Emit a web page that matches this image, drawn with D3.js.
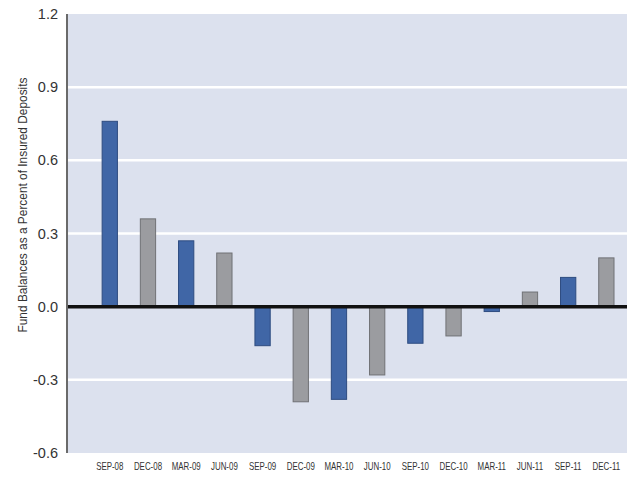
<!DOCTYPE html>
<html>
<head>
<meta charset="utf-8">
<script src="https://cdn.jsdelivr.net/npm/d3@7"></script>
<style>
  body { margin: 0; background: #fff; }
  svg { display: block; }
</style>
</head>
<body>
<div id="vis"></div>
<script>
var quarters = ["SEP-08", "DEC-08", "MAR-09", "JUN-09", "SEP-09", "DEC-09", "MAR-10",
                "JUN-10", "SEP-10", "DEC-10", "MAR-11", "JUN-11", "SEP-11", "DEC-11"];
var balances = [0.76, 0.36, 0.27, 0.22, -0.16, -0.39, -0.38,
                -0.28, -0.15, -0.12, -0.02, 0.06, 0.12, 0.20];
var yTicks = [-0.6, -0.3, 0.0, 0.3, 0.6, 0.9, 1.2];
var yTitle = "Fund Balances as a Percent of Insured Deposits";

var W = 640, H = 480;
var margin = {top: 14, right: 13, bottom: 27, left: 67},
    w = W - margin.left - margin.right,
    h = H - margin.top - margin.bottom;

var svg = d3.select("#vis").append("svg")
    .attr("width", W)
    .attr("height", H);

var g = svg.append("g")
    .attr("transform", "translate(" + margin.left + "," + margin.top + ")");

var x = d3.scaleBand()
    .domain(quarters)
    .range([0, w])
    .paddingInner(0.6)
    .paddingOuter(0.63)
    .align(0.73);

var y = d3.scaleLinear()
    .domain([-0.6, 1.2])
    .range([h, 0]);

// plot background
g.append("rect")
  .attr("width", w)
  .attr("height", h)
  .style("fill", "#dce1ee");

// white gridlines
g.selectAll("line.grid")
  .data(yTicks.filter(function(d) { return d != 0 && d != -0.6 && d != 1.2; }))
  .enter().append("line")
  .attr("class", "grid")
  .attr("x1", 0)
  .attr("x2", w)
  .attr("y1", function(d) { return y(d); })
  .attr("y2", function(d) { return y(d); })
  .style("stroke", "#fff")
  .style("stroke-width", 2.5);

// bars
g.selectAll("rect.bar")
  .data(balances)
  .enter().append("rect")
  .attr("class", "bar")
  .attr("x", function(d, i) { return x(quarters[i]); })
  .attr("width", x.bandwidth())
  .attr("y", function(d) { return y(Math.max(0, d)); })
  .attr("height", function(d) { return Math.abs(y(d) - y(0)); })
  .style("fill", function(d, i) { return i % 2 == 0 ? "#4066a6" : "#9b9ca0"; })
  .style("stroke", function(d, i) { return i % 2 == 0 ? "#2e4c80" : "#707175"; })
  .style("stroke-width", 1);

// zero line
g.append("line")
  .attr("x1", 0)
  .attr("x2", w)
  .attr("y1", y(0))
  .attr("y2", y(0))
  .style("stroke", "#111")
  .style("stroke-width", 3.5);

// left axis line
g.append("line")
  .attr("x1", 0)
  .attr("x2", 0)
  .attr("y1", 0)
  .attr("y2", h)
  .style("stroke", "#6a6a6a")
  .style("stroke-width", 2);

// y axis labels
var yAxis = d3.axisLeft(y)
  .tickValues(yTicks)
  .tickFormat(function(d) { return d.toFixed(1); })
  .tickSize(0)
  .tickPadding(9);

g.append("g")
  .call(yAxis)
  .call(function(a) { a.select(".domain").remove(); })
  .selectAll("text")
  .style("font-family", "'Liberation Sans', Arial, sans-serif")
  .style("font-size", "14.5px")
  .style("fill", "#333");

// x axis labels (squeezed to look condensed)
var xAxis = d3.axisBottom(x)
  .tickSize(0)
  .tickPadding(9);

g.append("g")
  .attr("transform", "translate(0," + h + ")")
  .call(xAxis)
  .call(function(a) { a.select(".domain").remove(); })
  .selectAll("text")
  .attr("transform", "scale(0.72,1)")
  .style("font-family", "'Liberation Sans', Arial, sans-serif")
  .style("font-size", "11px")
  .style("fill", "#333");

// y title
svg.append("text")
  .attr("transform", "translate(27," + 205 + ") rotate(-90)")
  .attr("text-anchor", "middle")
  .attr("textLength", 255)
  .attr("lengthAdjust", "spacingAndGlyphs")
  .style("font-family", "'Liberation Sans', Arial, sans-serif")
  .style("font-size", "13px")
  .style("fill", "#333")
  .text(yTitle);
</script>
</body>
</html>
